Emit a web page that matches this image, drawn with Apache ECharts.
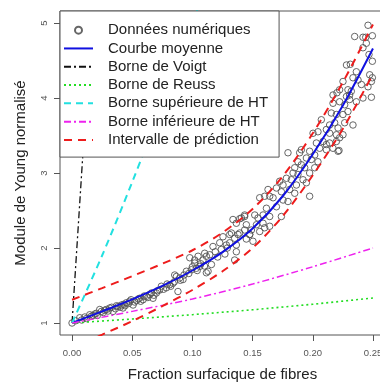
<!DOCTYPE html>
<html>
<head>
<meta charset="utf-8">
<script src="https://cdn.jsdelivr.net/npm/echarts@6/dist/echarts.min.js"></script>
<style>html,body{margin:0;padding:0;background:#fff;}#c{width:380px;height:383px;}</style>
</head>
<body>
<div id="c"></div>
<script>
// ---- data ----
var xTicks = [0, 0.05, 0.10, 0.15, 0.20, 0.25];
var yTicks = [1, 2, 3, 4, 5];

var gridF = [0, 0.025, 0.05, 0.075, 0.1, 0.125, 0.15, 0.175, 0.2, 0.225, 0.25];
var meanV = [1.0, 1.155, 1.315, 1.495, 1.70, 1.945, 2.26, 2.69, 3.25, 3.9, 4.66];
var upperV = [1.31, 1.465, 1.625, 1.79, 1.97, 2.205, 2.52, 2.955, 3.53, 4.21, 4.98];
var lowerV = [0.67, 0.845, 1.025, 1.225, 1.44, 1.69, 2.0, 2.425, 2.97, 3.59, 4.32];

var voigtF = [0, 0.02];
var voigtV = [1, 6.0];

var hsF = [0, 0.025, 0.05, 0.075, 0.1, 0.125];
var hsV = [1, 1.9, 2.88, 3.92, 5.0, 6.1];

var boundF = [0, 0.05, 0.10, 0.15, 0.20, 0.25];
var hiV = [1, 1.155, 1.32, 1.52, 1.75, 2.0];
var reussV = [1, 1.053, 1.111, 1.176, 1.25, 1.333];

var points = [
[0,1.0],[0.0064,1.07],[0.0106,1.08],[0.0147,1.11],[0.0175,1.10],[0.0203,1.13],[0.0244,1.155],[0.023,1.18],
[0.0286,1.18],[0.0313,1.2],[0.0341,1.155],[0.0382,1.22],[0.041,1.24],[0.0424,1.2],[0.0452,1.27],[0.0479,1.29],
[0.0507,1.24],[0.0535,1.3],[0.0562,1.33],[0.059,1.31],[0.0618,1.355],[0.0645,1.38],[0.0673,1.33],[0.0701,1.4],
[0.0728,1.44],[0.0742,1.49],[0.0784,1.47],[0.0811,1.51],[0.0839,1.53],[0.0853,1.64],[0.0867,1.62],[0.0894,1.6],
[0.0922,1.58],[0.088,1.42],[0.095,1.69],[0.0992,1.71],[0.1019,1.8],[0.1033,1.73],[0.1061,1.755],[0.1088,1.84],
[0.1116,1.89],[0.113,1.69],[0.1116,1.67],[0.1158,1.78],
[0.003,1.03],[0.008,1.04],[0.012,1.06],[0.016,1.09],[0.019,1.12],[0.021,1.1],[0.026,1.14],[0.027,1.17],
[0.03,1.16],[0.033,1.21],[0.036,1.19],[0.037,1.23],[0.04,1.21],[0.043,1.25],[0.044,1.23],[0.047,1.26],
[0.049,1.31],[0.052,1.28],[0.055,1.32],[0.057,1.29],[0.06,1.36],[0.063,1.34],[0.066,1.4],[0.068,1.37],
[0.071,1.43],[0.076,1.45],[0.079,1.52],[0.082,1.49],[0.085,1.55],[0.09,1.57],[0.093,1.64],[0.097,1.66],
[0.1,1.75],[0.104,1.7],[0.107,1.79],[0.11,1.76],
[0.1171,2.02],[0.1227,2.07],[0.1282,2.04],[0.1254,2.15],[0.131,2.18],[0.1337,2.38],[0.1393,2.39],[0.1434,2.42],
[0.1393,2.2],[0.1434,2.24],[0.1476,2.18],[0.1047,1.89],[0.1102,1.93],[0.1144,1.91],[0.0978,1.87],[0.1019,1.84],
[0.1628,2.78],[0.1559,2.67],[0.16,2.69],[0.119,1.95],[0.121,1.88],[0.124,1.98],[0.127,1.92],[0.129,2.0],
[0.2459,4.97],[0.2348,4.82],[0.2417,4.81],[0.244,4.81],[0.2495,4.83],[0.2445,4.73],[0.2417,4.67],[0.2467,4.58],
[0.2495,4.49],[0.228,4.44],[0.2312,4.45],[0.2362,4.35],[0.2334,4.27],[0.2473,4.31],[0.2495,4.27],[0.2251,4.22],
[0.2376,4.24],[0.2404,4.18],[0.2223,4.11],[0.2292,4.11],[0.232,4.09],[0.2168,4.04],[0.2201,4.07],[0.228,4.02],
[0.2306,4.04],[0.2459,4.15],[0.2487,4.22],[0.2417,4.0],[0.2487,4.01],[0.2168,3.93],[0.2223,3.95],[0.2265,3.91],
[0.2306,3.98],[0.2362,3.95],[0.2154,3.8],[0.2196,3.78],[0.2292,3.82],[0.2251,3.78],[0.2071,3.71],[0.214,3.64],
[0.2182,3.67],[0.221,3.6],[0.2265,3.67],[0.2334,3.64],[0.2002,3.53],[0.2043,3.55],[0.2113,3.58],[0.214,3.53],
[0.2196,3.51],[0.203,3.4],[0.2085,3.42],[0.2113,3.38],[0.214,3.4],[0.2196,3.42],[0.2223,3.47],[0.2251,3.51],
[0.2057,3.33],[0.2113,3.31],[0.2168,3.33],[0.221,3.29],[0.1794,3.27],[0.1905,3.31],[0.1891,3.27],[0.1974,3.29],
[0.2016,3.24],[0.1947,3.2],[0.1988,3.18],[0.2043,3.15],[0.1877,3.15],[0.1905,3.11],[0.185,3.07],[0.1933,3.07],
[0.2016,3.07],[0.1836,3.0],[0.1877,2.98],[0.1974,3.0],[0.1781,2.93],[0.1822,2.91],[0.1919,2.91],[0.1725,2.89],
[0.1753,2.84],[0.1864,2.84],[0.1947,2.87],[0.1974,2.69],[0.1698,2.8],[0.1739,2.75],[0.1808,2.78],[0.185,2.73],
[0.1642,2.69],[0.167,2.67],[0.1753,2.64],[0.1794,2.62],[0.1698,2.55],[0.1615,2.53],[0.1587,2.44],[0.1642,2.42],
[0.1518,2.44],[0.1545,2.4],[0.1434,2.44],[0.1407,2.4],[0.1365,2.33],[0.1448,2.31],[0.1532,2.31],[0.1587,2.33],
[0.1642,2.29],[0.149,2.24],[0.1559,2.22],[0.16,2.27],[0.1324,2.2],[0.1379,2.18],[0.1476,2.18],[0.1739,2.42],
[0.1351,2.13],[0.1448,2.12],[0.131,2.07],[0.1365,2.04],[0.1503,2.09],[0.1365,1.95],[0.1351,1.84],[0.2218,3.3]
];

var names = ['Données numériques','Courbe moyenne','Borne de Voigt','Borne de Reuss',
             'Borne supérieure de HT','Borne inférieure de HT','Intervalle de prédiction'];

function zip(a, b) { return a.map(function (v, i) { return [v, b[i]]; }); }

var FONT = 'Liberation Sans, Arial, Helvetica, sans-serif';
var chart = echarts.init(document.getElementById('c'), null, {renderer: 'canvas'});

function lineSeries(name, data, color, width, dash, smooth) {
  return {
    name: name, type: 'line', data: data, symbol: 'none', smooth: smooth || false,
    lineStyle: {color: color, width: width, type: dash}, itemStyle: {color: color},
    clip: true, silent: true, z: 3
  };
}

var legendData = names.map(function (n, i) {
  return i === 0 ? {name: n} : {name: n, itemStyle: {opacity: 0}};
});

chart.setOption({
  animation: false,
  backgroundColor: '#fff',
  grid: {left: 60, top: 11, width: 325, height: 324, outerBoundsMode: 'none', containLabel: false,
         show: true, borderColor: '#555', borderWidth: 1, backgroundColor: 'transparent'},
  xAxis: {
    type: 'value', min: -0.01, max: 0.26,
    name: 'Fraction surfacique de fibres', nameLocation: 'middle', nameGap: 32.5,
    nameTextStyle: {fontSize: 15, color: '#222', fontFamily: FONT},
    axisLine: {show: false, onZero: false},
    axisTick: {show: true, length: 6, lineStyle: {color: '#555'}, customValues: xTicks},
    axisLabel: {show: true, customValues: xTicks, margin: 13, fontSize: 9.5, color: '#555', fontFamily: FONT,
      formatter: function (v) { return v.toFixed(2); }},
    splitLine: {show: false}
  },
  yAxis: {
    type: 'value', min: 0.84, max: 5.16,
    name: 'Module de Young normalisé', nameLocation: 'middle', nameGap: 31.5,
    nameTextStyle: {fontSize: 15, color: '#222', fontFamily: FONT},
    axisLine: {show: false, onZero: false},
    axisTick: {show: true, length: 6, lineStyle: {color: '#555'}, customValues: yTicks},
    axisLabel: {show: true, customValues: yTicks, rotate: 90, margin: 11, fontSize: 9.5, color: '#555', fontFamily: FONT},
    splitLine: {show: false}
  },
  legend: {
    orient: 'vertical', left: 60, top: 11,
    padding: [10, 11, 8, 3], itemGap: 0, itemWidth: 29, itemHeight: 7,
    backgroundColor: '#fff', borderColor: '#555', borderWidth: 1, borderRadius: 0,
    textStyle: {fontSize: 15, color: '#222', fontFamily: FONT, lineHeight: 18.3, padding: [0, 0, 0, 10]},
    selectedMode: false,
    data: legendData
  },
  series: [
    {
      name: names[0], type: 'scatter', data: points, symbol: 'circle', symbolSize: 6.5,
      itemStyle: {color: 'rgba(0,0,0,0)', borderColor: '#555', borderWidth: 1, opacity: 0.9},
      silent: true, z: 2
    },
    lineSeries(names[1], zip(gridF, meanV), '#1010e0', 2, 'solid', 0.3),
    lineSeries(names[2], zip(voigtF, voigtV), '#111', 1.3, [7, 3, 2, 3]),
    lineSeries(names[3], zip(boundF, reussV), '#22dd22', 1.6, [2, 3]),
    lineSeries(names[4], zip(hsF, hsV), '#22e0e0', 2, [7, 5], 0.3),
    lineSeries(names[5], zip(boundF, hiV), '#ee22ee', 1.5, [7, 3, 2, 3], 0.3),
    lineSeries(names[6], zip(gridF, upperV), '#ee1c1c', 2, [8, 6], 0.3),
    lineSeries(names[6], zip(gridF, lowerV), '#ee1c1c', 2, [8, 6], 0.3)
  ]
});
</script>
</body>
</html>
